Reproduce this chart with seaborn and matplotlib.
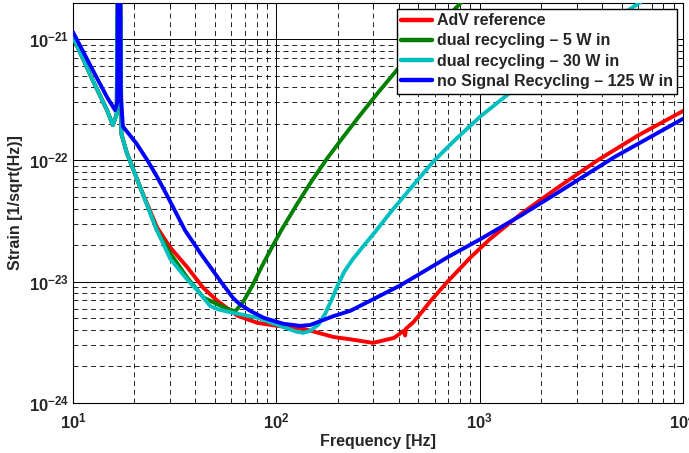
import numpy as np
import pandas as pd
import matplotlib
matplotlib.use("Agg")
import matplotlib.pyplot as plt
import seaborn as sns
from matplotlib.ticker import LogLocator, FixedLocator, FuncFormatter, NullFormatter

# ---------------- data ----------------
series_names = ["AdV reference",
                "dual recycling \u2013 5 W in",
                "dual recycling \u2013 30 W in",
                "no Signal Recycling \u2013 125 W in"]
series_colors = ["#ff0000", "#008000", "#00bfbf", "#0000ff"]

freq_red = [10, 12.5, 14.7, 15.7, 16.4, 16.85, 17.3, 18.4, 21.4, 25.9, 30.1, 36.4,
            43.7, 51.2, 64.3, 80.6, 101, 136, 191, 231, 299, 379, 425, 430, 434,
            470, 512, 575, 695, 900, 1125, 1590, 2400, 3800, 6000, 10000]
strain_red = [1.04e-21, 4.58e-22, 2.59e-22, 1.95e-22, 2.4e-22, 1e-19, 1.65e-22,
              1.15e-22, 6.0e-23, 2.8e-23, 1.91e-23, 1.32e-23, 8.9e-24, 6.97e-24,
              5.24e-24, 4.58e-24, 4.32e-24, 4.09e-24, 3.5e-24, 3.35e-24, 3.13e-24,
              3.44e-24, 3.95e-24, 3.6e-24, 4.1e-24, 4.6e-24, 5.45e-24, 6.97e-24,
              1.0e-23, 1.58e-23, 2.25e-23, 3.6e-23, 5.9e-23, 1.0e-22, 1.6e-22,
              2.55e-22]

freq_green = [10, 12.5, 14.7, 15.7, 16.4, 16.85, 17.3, 18.4, 21.4, 25.9, 30.1, 36.3,
              43.8, 57, 62.8, 68.8, 76.2, 85.3, 95.6, 107, 127, 150, 178, 211, 251,
              315, 395, 574, 834, 1130]
strain_green = [1.04e-21, 4.58e-22, 2.59e-22, 1.95e-22, 2.4e-22, 1e-19, 1.65e-22,
                1.15e-22, 6.0e-23, 2.64e-23, 1.71e-23, 1.09e-23, 7.4e-24, 6.0e-24,
                5.7e-24, 6.84e-24, 9.27e-24, 1.36e-23, 1.95e-23, 2.74e-23, 4.41e-23,
                6.84e-23, 1.04e-22, 1.52e-22, 2.22e-22, 3.58e-22, 5.65e-22, 1.1e-21,
                2.1e-21, 3.58e-21]

freq_cyan = [10, 12.5, 14.7, 15.7, 16.4, 16.85, 17.3, 18.4, 21.4, 25.9, 30.1, 36.3,
             40.8, 47.3, 52, 59.3, 80.6, 104.6, 125, 136, 147, 161, 174, 187,
             200, 216, 237, 265, 307, 364, 457, 593, 762, 1011, 1421, 2238, 3945,
             6427, 10000]
strain_cyan = [1.04e-21, 4.58e-22, 2.59e-22, 1.95e-22, 2.4e-22, 1e-19, 1.65e-22,
               1.15e-22, 6.0e-23, 2.64e-23, 1.54e-23, 1.05e-23, 8.5e-24, 6.3e-24,
               5.9e-24, 5.6e-24, 5.04e-24, 4.32e-24, 3.88e-24, 3.79e-24, 3.94e-24,
               4.42e-24, 5.45e-24, 7.1e-24, 9.27e-24, 1.21e-23, 1.52e-23, 1.92e-23,
               2.59e-23, 3.72e-23, 5.87e-23, 9.82e-23, 1.49e-22, 2.31e-22, 3.65e-22,
               6.33e-22, 1.23e-21, 2.1e-21, 3.38e-21]

freq_blue = [10, 12.5, 14.7, 16.1, 16.5, 16.85, 17.2, 17.6, 20.5, 23.4, 26, 29,
             35.6, 42.3, 52.9, 61.4, 66.3, 75, 86.6, 108, 131, 147, 191, 231, 290,
             406, 512, 700, 1012, 1590, 2500, 4580, 10000]
strain_blue = [1.14e-21, 5.55e-22, 3.32e-22, 2.59e-22, 3.0e-22, 1e-19, 3.3e-22,
               1.9e-22, 1.38e-22, 9.8e-23, 7.24e-23, 5.14e-23, 2.64e-23, 1.72e-23,
               1.02e-23, 7.3e-24, 6.5e-24, 5.7e-24, 5.04e-24, 4.5e-24, 4.32e-24,
               4.4e-24, 5.2e-24, 5.75e-24, 6.97e-24, 9.3e-24, 1.17e-23, 1.6e-23,
               2.25e-23, 3.5e-23, 5.6e-23, 1.06e-22, 2.2e-22]

x_limits = [10, 1e4]
y_limits = [1e-24, 1.98e-21]
x_major_ticks = [1e1, 1e2, 1e3, 1e4]
y_major_ticks = [1e-24, 1e-23, 1e-22, 1e-21]
x_label = "Frequency [Hz]"
y_label = "Strain [1/sqrt(Hz)]"

# ---------------- build table ----------------
frames = []
for name, f, s in zip(series_names,
                      [freq_red, freq_green, freq_cyan, freq_blue],
                      [strain_red, strain_green, strain_cyan, strain_blue]):
    frames.append(pd.DataFrame({"freq": f, "strain": s, "series": name}))
df = pd.concat(frames, ignore_index=True)

# ---------------- style ----------------
sns.set_theme(style="white")
plt.rcParams["font.family"] = ["Liberation Sans", "DejaVu Sans"]
plt.rcParams["font.weight"] = "bold"
plt.rcParams["axes.labelweight"] = "bold"
plt.rcParams["mathtext.fontset"] = "custom"
plt.rcParams["mathtext.rm"] = "Liberation Sans:bold"
plt.rcParams["mathtext.bf"] = "Liberation Sans:bold"
plt.rcParams["mathtext.it"] = "Liberation Sans:bold"

fig = plt.figure(figsize=(6.89, 4.53), dpi=100)
ax = fig.add_axes([73 / 689, 1 - 403 / 453, 610 / 689, 400 / 453])
ax.set_xscale("log")
ax.set_yscale("log")

sns.lineplot(data=df, x="freq", y="strain", hue="series", hue_order=series_names,
             palette=dict(zip(series_names, series_colors)), sort=False,
             estimator=None, linewidth=2.8, ax=ax, zorder=3)
for ln in ax.get_lines():
    ln.set_solid_joinstyle("round")
    ln.set_solid_capstyle("round")

ax.set_xlim(*x_limits)
ax.set_ylim(*y_limits)

ax.xaxis.set_major_locator(FixedLocator(x_major_ticks))
ax.yaxis.set_major_locator(FixedLocator(y_major_ticks))
ax.xaxis.set_minor_locator(LogLocator(base=10, subs=np.arange(2, 10), numticks=20))
ax.yaxis.set_minor_locator(LogLocator(base=10, subs=np.arange(2, 10), numticks=20))

def fmt(v, pos):
    e = int(round(np.log10(v)))
    return r"$\mathbf{10^{%d}}$" % e

ax.xaxis.set_major_formatter(FuncFormatter(fmt))
ax.yaxis.set_major_formatter(FuncFormatter(fmt))
ax.xaxis.set_minor_formatter(NullFormatter())
ax.yaxis.set_minor_formatter(NullFormatter())

ax.grid(True, which="major", color="black", linestyle="-", linewidth=0.7)
ax.grid(True, which="minor", color="black", linestyle=(0, (6, 4.5)), linewidth=0.6)
ax.set_axisbelow(True)

ax.tick_params(which="both", direction="in", top=True, right=True, color="black")
ax.tick_params(which="major", length=4, width=0.7, labelsize=12)
ax.tick_params(axis="x", which="major", pad=6)
ax.tick_params(axis="y", which="major", pad=3)
ax.tick_params(which="minor", length=2.5, width=0.6)
for sp in ax.spines.values():
    sp.set_color("black")
    sp.set_linewidth(0.8)

ax.set_xlabel(x_label, fontsize=11.5, fontweight="bold", labelpad=2)
ax.set_ylabel(y_label, fontsize=11.5, fontweight="bold", labelpad=4)

handles, labels = ax.get_legend_handles_labels()
leg = ax.legend(handles, labels, loc="upper right", fancybox=False, frameon=True,
                edgecolor="black", framealpha=1, borderaxespad=0.35,
                borderpad=0.3, labelspacing=0.32, handlelength=1.9,
                handletextpad=0.3, prop={"weight": "bold", "size": 11.5})
leg.get_frame().set_linewidth(1.0)
for ln in leg.get_lines():
    ln.set_linewidth(3.2)

fig.savefig("out.png", dpi=100)
